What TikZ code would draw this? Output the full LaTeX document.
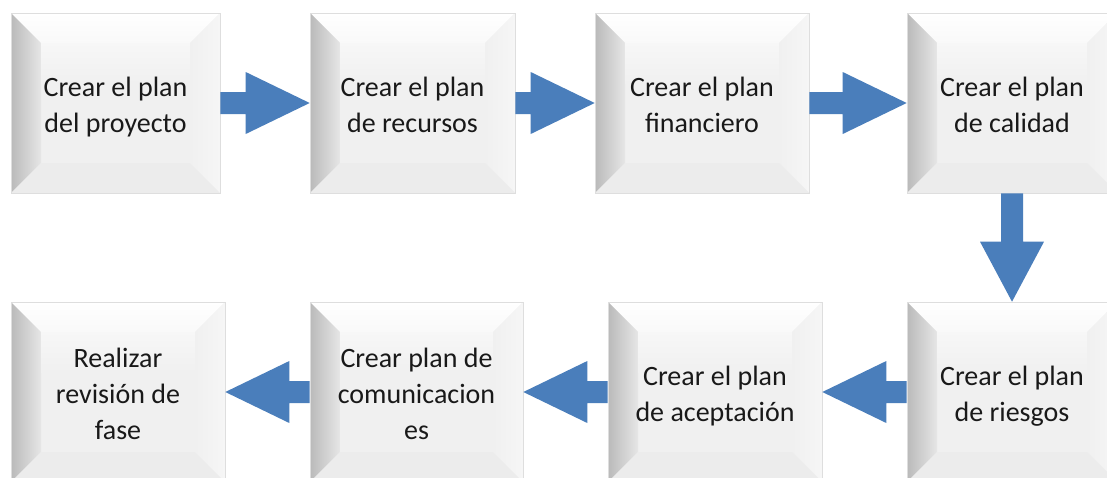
\documentclass[tikz,border=0pt]{standalone}
\usepackage{fontspec}
\setmainfont{Carlito}
\usetikzlibrary{calc}
\definecolor{arrblue}{RGB}{74,126,187}
\definecolor{face}{RGB}{240,240,240}
\definecolor{edgeline}{RGB}{222,222,222}
\definecolor{txt}{RGB}{25,25,25}
\definecolor{leftdark}{RGB}{186,186,186}
\definecolor{leftlight}{RGB}{230,230,230}
\definecolor{rightA}{RGB}{240,240,240}
\definecolor{rightB}{RGB}{246,246,246}
\definecolor{bottomc}{RGB}{236,236,236}
\definecolor{glow}{RGB}{247,247,247}
\definecolor{topc}{RGB}{249,249,249}
\newcommand\boxtext[1]{\raisebox{-4pt}[\height][\depth]{\begin{tabular}{@{}c@{}}#1\end{tabular}}}
\tikzset{
  bev/.style={rectangle, inner sep=0pt, align=center, fill=face, draw=edgeline, line width=0.6pt,
    text=txt, font=\fontsize{28}{36}\selectfont, minimum height=180pt,
    path picture={
      \path (path picture bounding box.north west) coordinate (pnw)
            (path picture bounding box.north east) coordinate (pne)
            (path picture bounding box.south west) coordinate (psw)
            (path picture bounding box.south east) coordinate (pse);
      \shade[top color=white, bottom color=topc] (pnw) -- (pne) -- ([shift={(-30pt,-30pt)}]pne) -- ([shift={(30pt,-30pt)}]pnw) -- cycle;
      \shade[left color=leftdark, right color=leftlight] (pnw) -- ([shift={(30pt,-30pt)}]pnw) -- ([shift={(30pt,30pt)}]psw) -- (psw) -- cycle;
      \shade[left color=rightA, right color=rightB] (pne) -- ([shift={(-30pt,-30pt)}]pne) -- ([shift={(-30pt,30pt)}]pse) -- (pse) -- cycle;
      \fill[bottomc] (psw) -- ([shift={(30pt,30pt)}]psw) -- ([shift={(-30pt,30pt)}]pse) -- (pse) -- cycle;
      \shade[top color=glow, bottom color=face] ([shift={(30pt,-30pt)}]pnw) rectangle ([shift={(-30pt,-70pt)}]pne);
    }},
  arr/.style={fill=arrblue}
}
\newcommand\rarrow[2]{\fill[arr] let \p1=(#1.east), \p2=(#2.west) in
  (\x1,\y2+11pt) -- (\x2-64pt,\y2+11pt) -- (\x2-64pt,\y2+31pt) -- (\x2,\y2) -- (\x2-64pt,\y2-31pt) -- (\x2-64pt,\y2-11pt) -- (\x1,\y2-11pt) -- cycle;}
\newcommand\larrow[2]{\fill[arr] let \p1=(#1.west), \p2=(#2.east) in
  (\x1,\y2+11pt) -- (\x2+64pt,\y2+11pt) -- (\x2+64pt,\y2+31pt) -- (\x2,\y2) -- (\x2+64pt,\y2-31pt) -- (\x2+64pt,\y2-11pt) -- (\x1,\y2-11pt) -- cycle;}
\begin{document}
\begin{tikzpicture}[x=1pt,y=-1pt]
\useasboundingbox (0,0) rectangle (1107,477);
\clip (0,0) rectangle (1107,477);
\node[bev, minimum width=209pt] (b1) at (115.5,103) {\boxtext{Crear el plan\\del proyecto}};
\node[bev, minimum width=205pt] (b2) at (412.5,103) {\boxtext{Crear el plan\\de recursos}};
\node[bev, minimum width=214pt] (b3) at (702,103) {\boxtext{Crear el plan\\financiero}};
\node[bev, minimum width=210pt] (b4) at (1012,103) {\boxtext{Crear el plan\\de calidad}};
\node[bev, minimum width=214pt] (b5) at (118,392) {\boxtext{Realizar\\revisión de\\fase}};
\node[bev, minimum width=213pt] (b6) at (416.5,392) {\boxtext{Crear plan de\\comunicacion\\es}};
\node[bev, minimum width=214pt] (b7) at (715,392) {\boxtext{Crear el plan\\de aceptación}};
\node[bev, minimum width=210pt] (b8) at (1012,392) {\boxtext{Crear el plan\\de riesgos}};
\rarrow{b1}{b2}
\rarrow{b2}{b3}
\rarrow{b3}{b4}
\fill[arr] let \p1=(b4.south), \p2=(b8.north) in
  (\x2-11pt,\y1) -- (\x2-11pt,\y2+60pt) -- (\x2-32pt,\y2+60pt) -- (\x2,\y2) -- (\x2+32pt,\y2+60pt) -- (\x2+11pt,\y2+60pt) -- (\x2+11pt,\y1) -- cycle;
\larrow{b8}{b7}
\larrow{b7}{b6}
\larrow{b6}{b5}
\end{tikzpicture}
\end{document}
